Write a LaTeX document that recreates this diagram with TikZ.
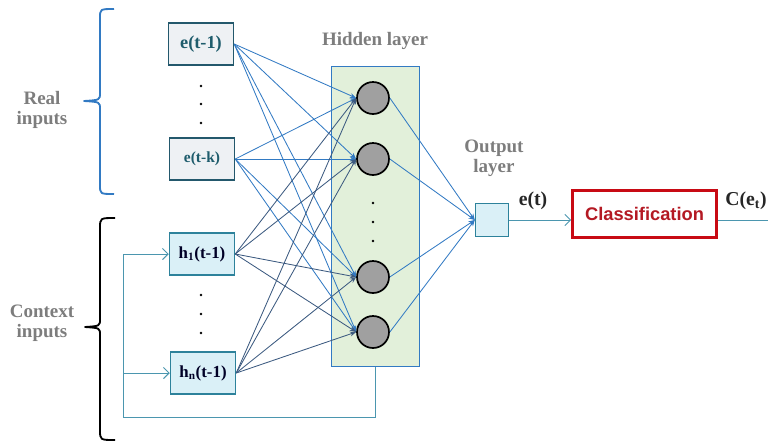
\documentclass[tikz,border=0pt]{standalone}
\usepackage{fontspec}
\setmainfont{Liberation Serif}
\setsansfont{Liberation Sans}
\usetikzlibrary{arrows.meta}
\definecolor{line_blue}{RGB}{50,122,195}
\definecolor{line_dark}{RGB}{60,90,128}
\definecolor{edge_dark}{RGB}{35,88,108}
\definecolor{edge_teal}{RGB}{45,130,155}
\definecolor{fb_teal}{RGB}{75,150,175}
\definecolor{node_grey}{RGB}{238,241,244}
\definecolor{node_cyan}{RGB}{218,240,247}
\definecolor{node_green}{RGB}{226,240,218}
\definecolor{node_circ}{RGB}{160,160,160}
\definecolor{text_grey}{RGB}{125,125,125}
\definecolor{text_teal}{RGB}{30,92,108}
\definecolor{cls_red}{RGB}{200,10,20}
\definecolor{cls_text}{RGB}{180,25,35}

\begin{document}
\begin{tikzpicture}[x=0.025cm,y=-0.025cm,semithick,>={Stealth[length=4.5pt,width=3.5pt]}]
    \tikzstyle{lyrtext}=[text=text_grey,font=\bfseries\fontsize{13.5}{14}\selectfont,align=center]
    \tikzstyle{inbox}=[draw=edge_dark,fill=node_grey,line width=1.2pt,minimum width=1.62cm,minimum height=1.05cm,text=text_teal,font=\bfseries\fontsize{13}{15}\selectfont]
    \tikzstyle{ctxbox}=[draw=edge_teal,fill=node_cyan,line width=1.2pt,minimum width=1.62cm,minimum height=1.05cm,text=black!85!blue,font=\bfseries\fontsize{12}{14}\selectfont]
    \tikzstyle{hidbox}=[draw=line_blue,fill=node_green,line width=1.2pt,minimum width=2.2cm,minimum height=7.5cm]
    \tikzstyle{neuron}=[draw=black,fill=node_circ,circle,line width=1.2pt,minimum size=0.8cm,inner sep=0pt]
    \tikzstyle{outbox}=[draw=edge_teal,fill=node_cyan,line width=1.2pt,minimum size=0.82cm]
    \tikzstyle{clsbox}=[draw=cls_red,fill=white,line width=2pt,minimum width=3.6cm,minimum height=1.18cm,text=cls_text,font=\sffamily\bfseries\fontsize{13}{15}\selectfont]
    \tikzstyle{sig}=[font=\bfseries\fontsize{14}{16}\selectfont,text=black!85]
    \tikzstyle{eline}=[->,line_blue,line width=0.6pt]
    \tikzstyle{hline}=[->,line_dark,line width=0.6pt]
    \tikzstyle{fb}=[-{Straight Barb[length=4pt]},fb_teal,line width=0.7pt]
    \tikzstyle{vdots}=[circle,fill=black,inner sep=0.7pt]
    \tikzstyle{brace}=[line width=1.3pt,line join=round]

    \useasboundingbox (0,0) rectangle (768,442);

    % braces and their labels
    \draw[brace,line_blue] (114,9) .. controls (100,9) .. (100,18) -- (100,93)
      .. controls (100,100) .. (84,101) .. controls (100,102) .. (100,109)
      -- (100,185) .. controls (100,194) .. (114,194);
    \draw[brace,black] (115,218) .. controls (100,218) .. (100,228) -- (100,319)
      .. controls (100,326) .. (85,327) .. controls (100,328) .. (100,335)
      -- (100,430) .. controls (100,440) .. (115,440);
    \node[lyrtext] (real) at (42,110) {Real\\inputs};
    \node[lyrtext] (ctx)  at (42,323) {Context\\inputs};

    % input side
    \node[inbox]  (e1) at (201,44)  {e(t-1)};
    \node[inbox,font=\bfseries\fontsize{11}{13}\selectfont] (ek) at (202,159) {e(t-k)};
    \node[ctxbox] (h1) at (202,254) {h\textsubscript{1}(t-1)};
    \node[ctxbox] (hn) at (203,373) {h\textsubscript{n}(t-1)};
    \node[vdots] (d1) at (201,86)  {};
    \node[vdots] (d2) at (201,104) {};
    \node[vdots] (d3) at (201,123) {};
    \node[vdots] (d4) at (201,295) {};
    \node[vdots] (d5) at (201,314) {};
    \node[vdots] (d6) at (201,333) {};

    % hidden layer
    \node[lyrtext] (hidlbl) at (375,41) {Hidden layer};
    \node[hidbox] (hid) at (375.5,216.5) {};
    \node[neuron] (n1) at (373,98)  {};
    \node[neuron] (n2) at (373,159) {};
    \node[neuron] (n3) at (373,277) {};
    \node[neuron] (n4) at (373,332) {};
    \node[vdots] (d7) at (373,203) {};
    \node[vdots] (d8) at (373,222) {};
    \node[vdots] (d9) at (373,241) {};

    % output side
    \node[lyrtext] (outlbl) at (494,158) {Output\\layer};
    \node[outbox] (out) at (492,220) {};
    \node[clsbox] (cls) at (644.5,214) {Classification};
    \node[sig] (et) at (533,201) {e(t)};
    \node[sig] (cet) at (746,201) {C(e\textsubscript{t})};
    \coordinate (cend) at (768,220);
    \coordinate (fl) at (123,417);

    \path
     (e1.east) edge[eline] (n1.west)
     (e1.east) edge[eline] (n2.west)
     (e1.east) edge[eline] (n3.west)
     (e1.east) edge[eline] (n4.west)
     (ek.east) edge[eline] (n1.west)
     (ek.east) edge[eline] (n2.west)
     (ek.east) edge[eline] (n3.west)
     (ek.east) edge[eline] (n4.west)
     (h1.east) edge[hline] (n1.west)
     (h1.east) edge[hline] (n2.west)
     (h1.east) edge[hline] (n3.west)
     (h1.east) edge[hline] (n4.west)
     (hn.east) edge[hline] (n1.west)
     (hn.east) edge[hline] (n2.west)
     (hn.east) edge[hline] (n3.west)
     (hn.east) edge[hline] (n4.west)
     (n1.east) edge[eline] (out.west)
     (n2.east) edge[eline] (out.west)
     (n3.east) edge[eline] (out.west)
     (n4.east) edge[eline] (out.west);

    % feedback of the hidden state
    \draw[fb] (hid.south) |- (fl) |- (h1.west);
    \draw[fb] (fl |- hn.west) -- (hn.west);

    \draw[-{Straight Barb[length=4pt]},fb_teal,semithick] (out.east) -- (out.east -| cls.west);
    \draw[fb_teal,semithick] (cls.east |- cend) -- (cend);
\end{tikzpicture}
\end{document}
